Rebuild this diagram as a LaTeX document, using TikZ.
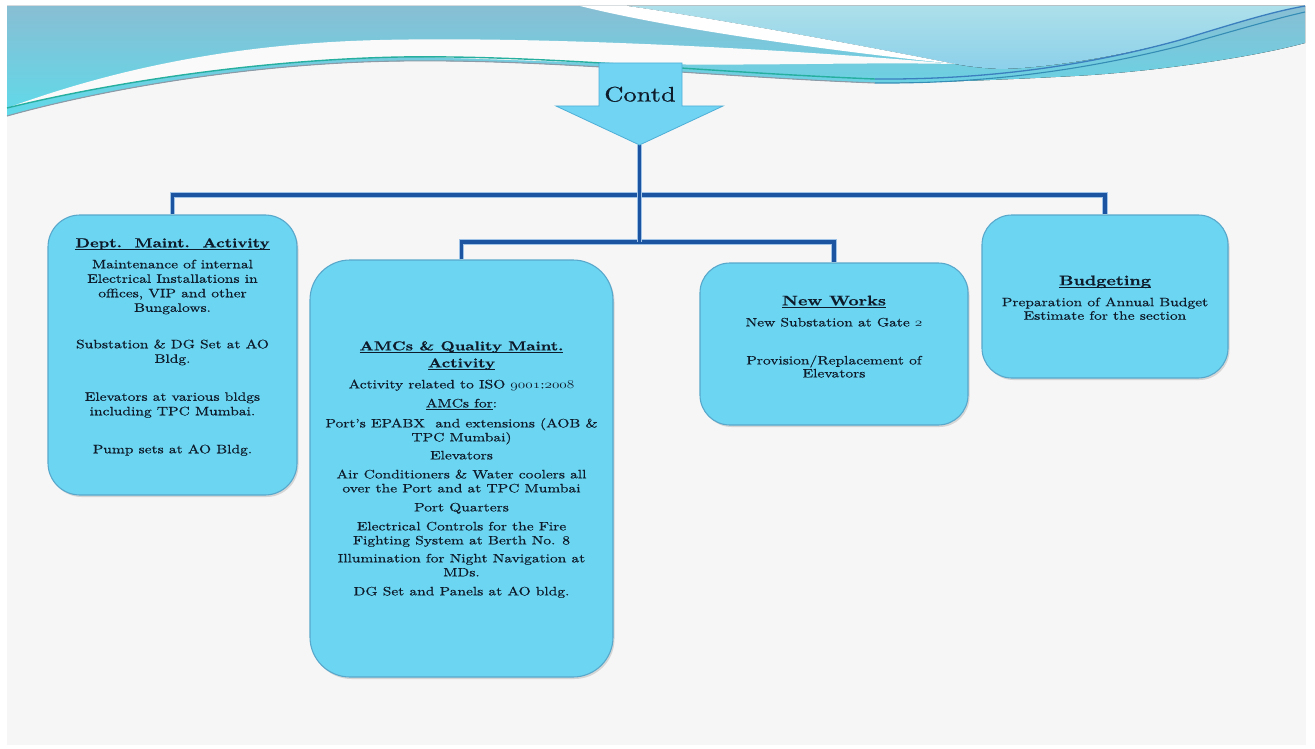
\documentclass[tikz,border=0pt]{standalone}
\usepackage{fontspec}
\setmainfont{lmroman10-regular.otf}[BoldFont=lmroman10-bold.otf, FakeBold=0.45]
\usetikzlibrary{shadows}

\definecolor{pagebg}{HTML}{F6F6F6}
\definecolor{bandtop}{HTML}{88BED4}
\definecolor{bandbot}{HTML}{5FDAE9}
\definecolor{skytop}{HTML}{ADE0EA}
\definecolor{skybot}{HTML}{8CD0EA}
\definecolor{swirlteal}{HTML}{26AE9E}
\definecolor{swirlblue}{HTML}{3B7FBF}
\definecolor{swirlgrey}{HTML}{8C9BA8}
\definecolor{boxfill}{HTML}{6CD5F2}
\definecolor{boxedge}{HTML}{58A8CC}
\definecolor{arrowfill}{HTML}{70D4F2}
\definecolor{arrowedge}{HTML}{4FAED6}
\definecolor{conncore}{HTML}{1B55A2}
\definecolor{connedge}{HTML}{9EC3E6}
\definecolor{ink}{HTML}{0E1B2A}

% bold underlined heading; thicker bar than \underline gives
\newcommand\boxtitle[2][13]{{\fontsize{#1}{14.5}\selectfont\bfseries
  \setbox0\hbox{#2}\rlap{\rule[-3pt]{\wd0}{1pt}}\box0}}
\newcommand\ulbody[1]{\setbox0\hbox{#1}\rlap{\rule[-2.4pt]{\wd0}{0.7pt}}\box0}
% hanging (old-style) figures taken from the math italic font
\newcommand\hangfig[1]{{\usefont{OML}{cmm}{m}{it}#1}}

\begin{document}
\begin{tikzpicture}[x=1pt,y=-1pt,
  box/.style={draw=boxedge, line width=1.1pt, fill=boxfill, rounded corners=#1,
    drop shadow={opacity=0.28, shadow xshift=1.5pt, shadow yshift=-2pt}},
  box/.default=30,
  conn/.style={draw=connedge, double=conncore, double distance=3.2pt, line width=1pt},
  txt/.style={anchor=north, align=center, inner sep=0pt, xscale=1.27, text=ink,
    font=\fontsize{12.2}{14.5}\selectfont},
]
\useasboundingbox (0,0) rectangle (1315,749);
\fill[white] (0,0) rectangle (1315,749);
\fill[pagebg] (7,6) rectangle (1306,745);

% ---- header swirl ----
\fill[top color=bandtop, bottom color=bandbot]
  (7,6) -- (1305,6) -- (1305,43)
  .. controls (1250,58) and (1150,72) .. (1075,76)
  .. controls (1000,80) and (920,83) .. (875,83)
  .. controls (700,76) and (550,59) .. (400,61)
  .. controls (250,63) and (100,90) .. (7,116) -- cycle;
\fill[top color=skytop, bottom color=skybot]
  (627,6) -- (1305,6)
  .. controls (1270,12) and (1230,25) .. (1180,40)
  .. controls (1120,56) and (1050,68) .. (1000,69)
  .. controls (980,68) and (965,66) .. (955,64)
  .. controls (860,45) and (700,16) .. (627,6) -- cycle;
\fill[white]
  (580,6) -- (627,6) .. controls (700,16) and (860,45) .. (955,64)
  .. controls (850,53) and (680,31) .. (580,6) -- cycle;
\fill[pagebg!50!white]
  (7,108) .. controls (90,78) and (210,44) .. (380,40)
  .. controls (550,36) and (800,50) .. (955,64)
  .. controls (860,62) and (760,66) .. (640,64)
  .. controls (520,61) and (450,57) .. (400,57)
  .. controls (250,60) and (100,85) .. (7,108) -- cycle;
% swirl strokes
\draw[swirlteal, line width=1.4pt]
  (7,108) .. controls (100,85) and (250,60) .. (400,57)
  .. controls (550,55) and (700,72) .. (875,79);
\draw[swirlblue, line width=1.3pt]
  (875,79) .. controls (1000,80) and (1100,62) .. (1180,40)
  .. controls (1230,25) and (1270,12) .. (1305,6);
\draw[swirlgrey, line width=1.1pt]
  (7,116) .. controls (100,90) and (250,63) .. (400,61)
  .. controls (550,59) and (700,76) .. (875,83);
\draw[swirlblue!70!swirlteal, line width=1.1pt]
  (875,83) .. controls (1000,84) and (1100,66) .. (1180,46)
  .. controls (1230,32) and (1270,20) .. (1305,12);

% ---- boxes ----
\node[box=32, minimum width=249, minimum height=280] (b1) at (172.5,355) {};
\node[box=40, minimum width=303, minimum height=417] (b2) at (461.5,468.5) {};
\node[box=30, minimum width=268, minimum height=162] (b3) at (834,344) {};
\node[box=30, minimum width=246, minimum height=163] (b4) at (1105,296.5) {};

% ---- connectors ----
\coordinate (tip) at (639.5,145);
\coordinate (hub1) at (639.5,195);
\coordinate (hub2) at (639.5,242);
\draw[conn] (b1.north) |- (hub1) -| (b4.north);
\draw[conn] (b2.north) |- (hub2) -| (b3.north);
\draw[conn] (tip) -- (hub2);

% ---- heading arrow ----
\filldraw[fill=arrowfill, draw=arrowedge, line width=0.8pt]
  (599,63) -- (682,63) -- (682,106) -- (723,106) -- (tip)
  -- (556,106) -- (599,106) -- cycle;
\node[font=\fontsize{21}{24}\selectfont, xscale=1.26, anchor=base, text=ink, inner sep=0pt]
  (contd) at (640,101.5) {Contd};

% ---- box texts ----
\node[txt] (t1) at (172.5,238) {%
  \boxtitle{Dept.\ \ Maint.\ \ Activity}\\[6.5pt]
  Maintenance of internal\\Electrical Installations in\\offices, VIP and other\\Bungalows.\\[22pt]
  Substation \& DG Set at AO\\Bldg.\\[23.5pt]
  Elevators at various bldgs\\including TPC Mumbai.\\[23.5pt]
  Pump sets at AO Bldg.};

\node[txt, font=\fontsize{12.2}{14}\selectfont] (t2) at (461.5,341) {%
  \boxtitle{AMCs \& Quality Maint.}\\[3pt]
  \boxtitle{Activity}\\[7pt]
  Activity related to ISO \hangfig{9001}:\hangfig{2008}\\[5pt]
  \ulbody{AMCs for}:\\[6pt]
  Port’s EPABX\ \ and extensions (AOB \&\\TPC Mumbai)\\[4pt]
  Elevators\\[5pt]
  Air Conditioners \& Water coolers all\\over the Port and at TPC Mumbai\\[5pt]
  Port Quarters\\[5pt]
  Electrical Controls for the Fire\\Fighting System at Berth No. 8\\[4pt]
  Illumination for Night Navigation at\\MDs.\\[5pt]
  DG Set and Panels at AO bldg.};

\node[txt] (t3) at (834,295.5) {%
  \boxtitle[14]{New Works}\\[6.5pt]
  New Substation at Gate \hangfig{2}\\[23.5pt]
  Provision/Replacement of\\[-1.5pt]Elevators};

\node[txt] (t4) at (1105,275.3) {%
  \boxtitle[14]{Budgeting}\\[6.5pt]
  Preparation of Annual Budget\\[-1pt]Estimate for the section};
\end{tikzpicture}
\end{document}
